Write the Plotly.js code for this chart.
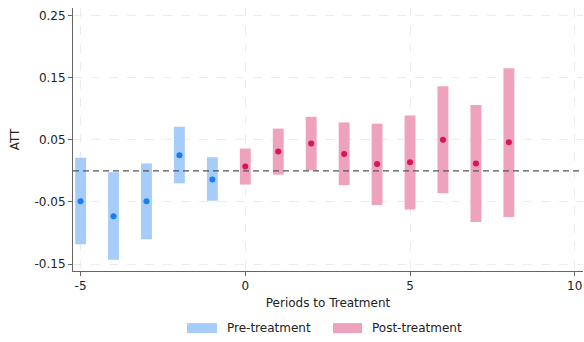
<!DOCTYPE html>
<html>
<head>
<meta charset="utf-8">
<script src="https://cdn.plot.ly/plotly-3.0.1.min.js"></script>
<style>html,body{margin:0;padding:0;background:#fff;}#chart{width:584px;height:342px;}</style>
</head>
<body>
<div id="chart"></div>
<script>
// Pre-treatment periods
const prePeriods = [-5, -4, -3, -2, -1];
const preATT     = [-0.049, -0.073, -0.049, 0.025, -0.014];
const preLower   = [-0.118, -0.143, -0.110, -0.020, -0.048];
const preUpper   = [0.021, -0.002, 0.012, 0.071, 0.022];

// Post-treatment periods
const postPeriods = [0, 1, 2, 3, 4, 5, 6, 7, 8];
const postATT     = [0.007, 0.031, 0.044, 0.027, 0.011, 0.014, 0.050, 0.012, 0.046];
const postLower   = [-0.022, -0.006, 0.001, -0.023, -0.055, -0.062, -0.036, -0.082, -0.074];
const postUpper   = [0.036, 0.068, 0.087, 0.078, 0.076, 0.089, 0.136, 0.106, 0.165];

const yTickVals = [-0.15, -0.05, 0.05, 0.15, 0.25];
const yTickText = ['-0.15', '-0.05', '0.05', '0.15', '0.25'];
const xTickVals = [-5, 0, 5, 10];
const xTickText = ['-5', '0', '5', '10'];
const legendLabels = ['Pre-treatment', 'Post-treatment'];

const preBar = '#a6cdfa', preDot = '#1a7df0';
const postBar = '#eea2bd', postDot = '#d8145a';

const diff = (u, l) => u.map((v, i) => v - l[i]);

const traces = [
  {type: 'bar', name: legendLabels[0], x: prePeriods, base: preLower, y: diff(preUpper, preLower),
   width: 0.33, marker: {color: preBar, line: {width: 0}}, hoverinfo: 'skip', showlegend: false},
  {type: 'bar', name: legendLabels[1], x: postPeriods, base: postLower, y: diff(postUpper, postLower),
   width: 0.33, marker: {color: postBar, line: {width: 0}}, hoverinfo: 'skip', showlegend: false},
  {type: 'scatter', mode: 'markers', x: prePeriods, y: preATT, showlegend: false,
   marker: {color: preDot, size: 6}, hoverinfo: 'skip'},
  {type: 'scatter', mode: 'markers', x: postPeriods, y: postATT, showlegend: false,
   marker: {color: postDot, size: 6}, hoverinfo: 'skip'}
];

const axisCommon = {
  showline: true, linecolor: '#666', linewidth: 1,
  ticks: 'outside', ticklen: 4, tickcolor: '#666', tickwidth: 1,
  showgrid: true, gridcolor: '#ececec', griddash: 'dash', gridwidth: 1,
  zeroline: false, tickfont: {size: 12, color: '#222'}
};

// legend drawn as paper-anchored patches + text (wide rectangular swatches)
const legendY0 = -0.198, legendY1 = -0.236, legendYText = -0.217;
const legendItems = [
  {x0: 0.2235, x1: 0.2824, tx: 0.298, color: preBar, label: legendLabels[0]},
  {x0: 0.5098, x1: 0.5667, tx: 0.5824, color: postBar, label: legendLabels[1]}
];

const shapes = [{type: 'line', xref: 'paper', x0: 0, x1: 1, yref: 'y', y0: 0, y1: 0,
                 line: {color: '#555', width: 1.3, dash: '6px,4px'}}];
const annotations = [];
legendItems.forEach(it => {
  shapes.push({type: 'rect', xref: 'paper', yref: 'paper', x0: it.x0, x1: it.x1, y0: legendY1, y1: legendY0,
               fillcolor: it.color, line: {width: 0}});
  annotations.push({xref: 'paper', yref: 'paper', x: it.tx, y: legendYText, xanchor: 'left', yanchor: 'middle',
                    text: it.label, showarrow: false, font: {size: 12, color: '#222'}});
});

const layout = {
  width: 584, height: 342,
  margin: {l: 73, r: 1, t: 8, b: 71},
  paper_bgcolor: '#fff', plot_bgcolor: '#fff',
  font: {family: 'DejaVu Sans', size: 12, color: '#222'},
  barmode: 'overlay',
  showlegend: false,
  xaxis: Object.assign({}, axisCommon, {
    range: [-5.23, 10.25], tickvals: xTickVals, ticktext: xTickText,
    title: {text: 'Periods to Treatment', font: {size: 12}, standoff: 6}
  }),
  yaxis: Object.assign({}, axisCommon, {
    range: [-0.161, 0.262], tickvals: yTickVals, ticktext: yTickText,
    title: {text: 'ATT', font: {size: 12}, standoff: 12}
  }),
  shapes: shapes,
  annotations: annotations
};

Plotly.newPlot('chart', traces, layout, {displayModeBar: false, staticPlot: true});
</script>
</body>
</html>
